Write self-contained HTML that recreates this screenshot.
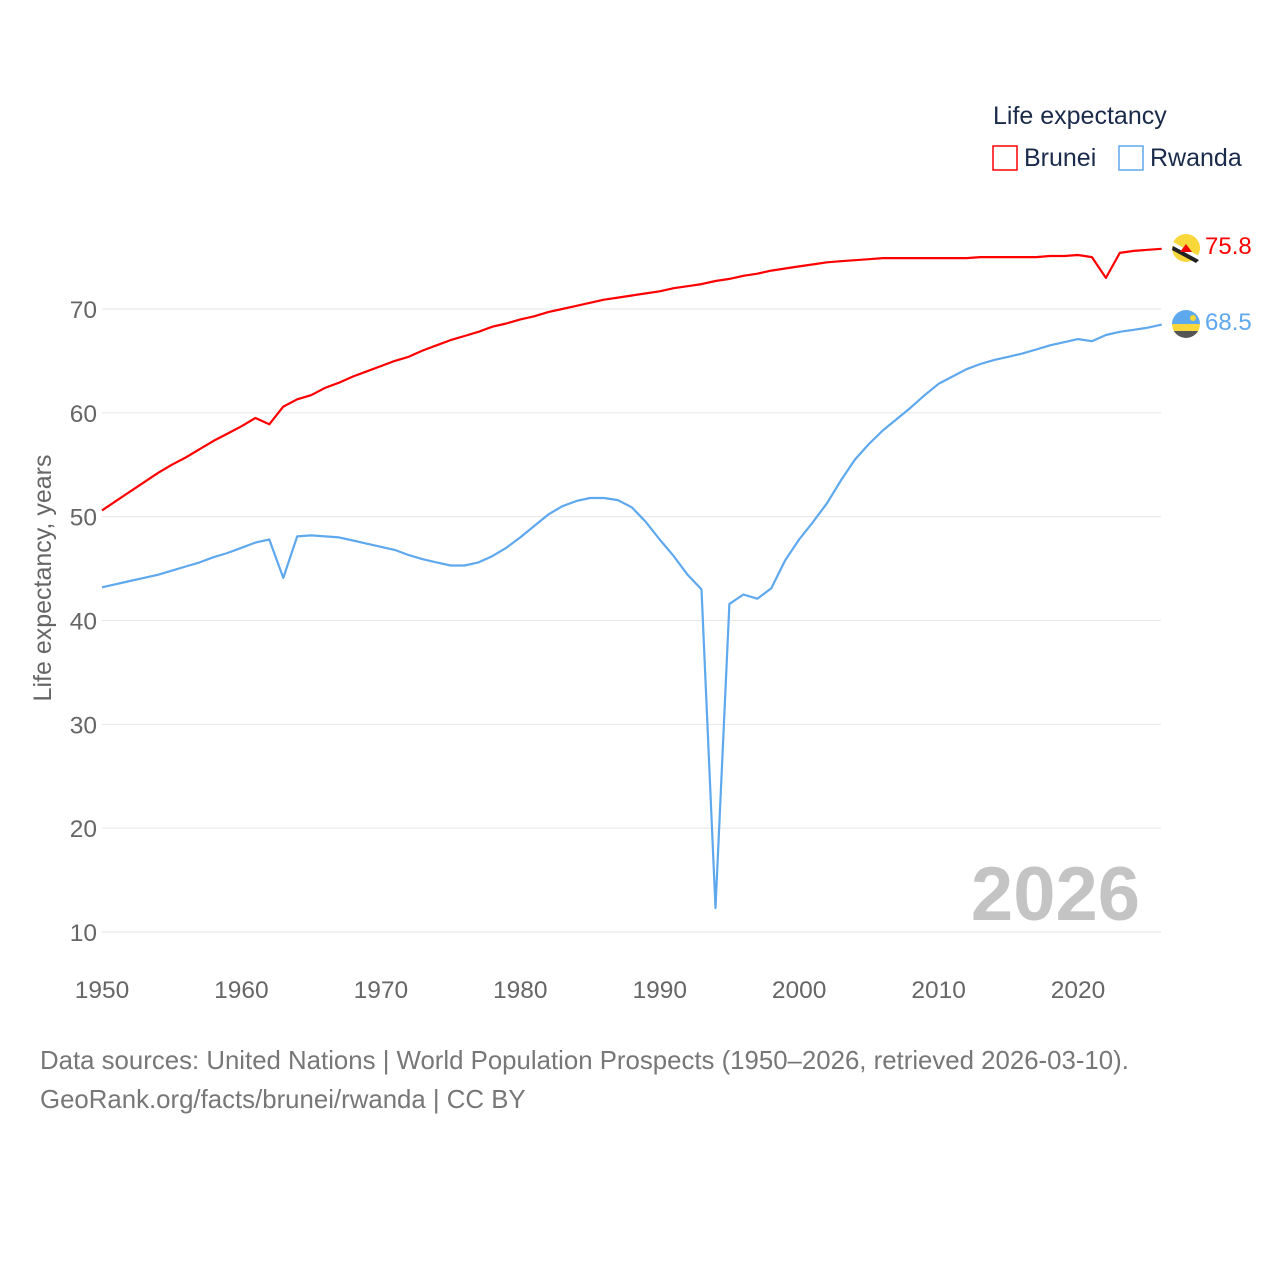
<!DOCTYPE html>
<html><head><meta charset="utf-8"><style>
body{margin:0;background:#fff;width:1280px;height:1280px;overflow:hidden;font-family:"Liberation Sans",sans-serif}
</style></head><body>
<svg id="chart" width="1280" height="1280" xmlns="http://www.w3.org/2000/svg" font-family="Liberation Sans, sans-serif">
<g id="grid"></g>
<g id="yticks"></g>
<g id="xticks"></g>
<text transform="translate(51,578) rotate(-90)" text-anchor="middle" font-size="25" fill="#666">Life expectancy, years</text>
<text x="1140" y="920" text-anchor="end" font-size="76" font-weight="bold" fill="#c4c4c4">2026</text>
<g id="series"></g>
<g>
<text x="993" y="124" font-size="25" fill="#1a2a4a">Life expectancy</text>
<g><rect x="993" y="146" width="24" height="24" fill="none" stroke="#f00" stroke-width="1.5"/><text x="1024" y="166" font-size="25" fill="#1a2a4a">Brunei</text></g>
<g><rect x="1119" y="146" width="24" height="24" fill="none" stroke="#5ea8ee" stroke-width="1.5"/><text x="1150" y="166" font-size="25" fill="#1a2a4a">Rwanda</text></g>
</g>
<g><circle cx="1186" cy="248" r="14" fill="#f8d73a"/><path d="M1173 242 L1199 256 L1198 260 L1172 246Z" fill="#fff"/><path d="M1173 246 L1199 260 L1196 263 L1172 250Z" fill="#222"/><path d="M1180 252 L1192 252 L1186 244Z" fill="#e00"/></g>
<g><clipPath id="rc"><circle cx="1186" cy="324" r="14"/></clipPath><g clip-path="url(#rc)"><rect x="1172" y="310" width="28" height="14" fill="#5ea8ee"/><rect x="1172" y="324" width="28" height="7" fill="#f8d73a"/><rect x="1172" y="331" width="28" height="7" fill="#555"/><circle cx="1193" cy="318" r="3" fill="#f8d73a"/></g></g>
<text x="1205" y="254" font-size="24" fill="#f00">75.8</text>
<text x="1205" y="330" font-size="24" fill="#5ea8ee">68.5</text>
<text x="40" y="1069" font-size="25.8" fill="#777">Data sources: United Nations | World Population Prospects (1950–2026, retrieved 2026-03-10).</text>
<text x="40" y="1108" font-size="25.8" fill="#777">GeoRank.org/facts/brunei/rwanda | CC BY</text>
</svg>
<script>
const startYear = 1950;
const xTickLabels = [1950,1960,1970,1980,1990,2000,2010,2020];
const yTickLabels = [10,20,30,40,50,60,70];
const brunei = [50.6,51.5,52.4,53.3,54.2,55.0,55.7,56.5,57.3,58.0,58.7,59.5,58.9,60.6,61.3,61.7,62.4,62.9,63.5,64.0,64.5,65.0,65.4,66.0,66.5,67.0,67.4,67.8,68.3,68.6,69.0,69.3,69.7,70.0,70.3,70.6,70.9,71.1,71.3,71.5,71.7,72.0,72.2,72.4,72.7,72.9,73.2,73.4,73.7,73.9,74.1,74.3,74.5,74.6,74.7,74.8,74.9,74.9,74.9,74.9,74.9,74.9,74.9,75.0,75.0,75.0,75.0,75.0,75.1,75.1,75.2,75.0,73.0,75.4,75.6,75.7,75.8];
const rwanda = [43.2,43.5,43.8,44.1,44.4,44.8,45.2,45.6,46.1,46.5,47.0,47.5,47.8,44.1,48.1,48.2,48.1,48.0,47.7,47.4,47.1,46.8,46.3,45.9,45.6,45.3,45.3,45.6,46.2,47.0,48.0,49.1,50.2,51.0,51.5,51.8,51.8,51.6,50.9,49.5,47.8,46.2,44.4,43.0,12.3,41.6,42.5,42.1,43.1,45.8,47.8,49.5,51.3,53.5,55.5,57.0,58.3,59.4,60.5,61.7,62.8,63.5,64.2,64.7,65.1,65.4,65.7,66.1,66.5,66.8,67.1,66.9,67.5,67.8,68.0,68.2,68.5];
const NS="http://www.w3.org/2000/svg";
const x = yr => 102 + (yr-1950)*(976/70);
const y = v => 932 - (v-10)*(623/60);
const grid=document.getElementById('grid'), yt=document.getElementById('yticks'), xt=document.getElementById('xticks'), ser=document.getElementById('series');
yTickLabels.forEach(v=>{
  const l=document.createElementNS(NS,'line');
  
  
  l.setAttribute('x1',102);l.setAttribute('x2',1161);l.setAttribute('y1',y(v));l.setAttribute('y2',y(v));
  l.setAttribute('stroke','#e6e6e6');l.setAttribute('stroke-width','1');grid.appendChild(l);
  const t=document.createElementNS(NS,'text');
  
  
  t.setAttribute('x',97);t.setAttribute('y',y(v)+9);t.setAttribute('text-anchor','end');t.setAttribute('font-size','24.5');t.setAttribute('fill','#666');
  t.textContent=v;yt.appendChild(t);
});
xTickLabels.forEach(v=>{
  const t=document.createElementNS(NS,'text');
  
  
  t.setAttribute('x',x(v));t.setAttribute('y',998);t.setAttribute('text-anchor','middle');t.setAttribute('font-size','24.5');t.setAttribute('fill','#666');
  t.textContent=v;xt.appendChild(t);
});
function line(data,color,name){
  const p=document.createElementNS(NS,'path');
  
  
  p.setAttribute('d',data.map((v,i)=>(i?'L':'M')+x(startYear+i).toFixed(1)+' '+y(v).toFixed(1)).join(' '));
  p.setAttribute('fill','none');p.setAttribute('stroke',color);p.setAttribute('stroke-width','2.2');p.setAttribute('stroke-linejoin','round');
  ser.appendChild(p);
}
line(rwanda,'#5ea8ee','rwanda-line');
line(brunei,'#ff0000','brunei-line');
</script>
</body></html>
